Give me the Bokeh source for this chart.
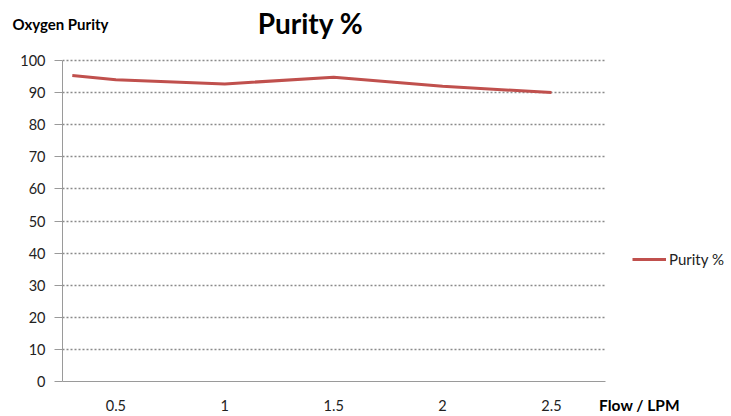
from bokeh.plotting import figure
from bokeh.models import Range1d, FixedTicker, Label, Legend, LegendItem, LinearAxis
from bokeh.embed import file_html
from bokeh.resources import INLINE

flow = [0.3, 0.5, 1.0, 1.5, 2.0, 2.5]
purity = [95.3, 94.0, 92.7, 94.8, 92.0, 90.0]
x_ticks = [0.5, 1.0, 1.5, 2.0, 2.5]
x_tick_labels = ["0.5", "1", "1.5", "2", "2.5"]
y_ticks = list(range(0, 101, 10))

FONT = "Lato"
W, H = 731, 416
# plot-area (axis box) in pixels and its data limits
AL, AR, AT, AB = 62, 605, 60, 381
X0, X1 = 0.255, 2.748
Y0, Y1 = 0, 100
xppu = (AR - AL) / (X1 - X0)
yppu = (AB - AT) / (Y1 - Y0)
FRAME_TOP = 57
# frame extends to the right edge so that the legend sits inside it,
# and a little above 100 so that the top gridline is fully drawn
x_end = X1 + (W - AR) / xppu
y_end = Y1 + (AT - FRAME_TOP) / yppu

p = figure(width=W, height=H, output_backend="svg", toolbar_location=None,
           x_range=Range1d(X0, x_end), y_range=Range1d(Y0, y_end),
           min_border_left=AL, min_border_right=0,
           min_border_top=FRAME_TOP, min_border_bottom=H - AB)
p.title.text = ""
p.outline_line_color = None
p.background_fill_color = "white"
p.border_fill_color = "white"

r = p.line(flow, purity, line_color="#C0504D", line_width=3)

# y axis
yax = p.yaxis[0]
yax.ticker = FixedTicker(ticks=y_ticks)
yax.bounds = (Y0, Y1)
yax.axis_line_color = "#9a9a9a"
yax.major_tick_line_color = "#9a9a9a"
yax.major_tick_out = 8
yax.major_tick_in = 0
yax.minor_tick_line_color = None
yax.major_label_text_font = FONT
yax.major_label_text_font_size = "14.5px"
yax.major_label_text_color = "#222222"
yax.major_label_standoff = 9

# x axis
xax = p.xaxis[0]
xax.ticker = FixedTicker(ticks=x_ticks)
xax.bounds = (X0, X1)
xax.major_label_overrides = {t: l for t, l in zip(x_ticks, x_tick_labels)}
xax.axis_line_color = "#9a9a9a"
xax.major_tick_line_color = None
xax.major_tick_out = 0
xax.minor_tick_line_color = None
xax.major_label_text_font = FONT
xax.major_label_text_font_size = "14.5px"
xax.major_label_text_color = "#222222"
xax.major_label_standoff = 18

# axis title "Flow / LPM" drawn on the same row as the tick labels
flow_title_x = X0 + (639 - AL) / xppu
tax = LinearAxis(ticker=FixedTicker(ticks=[flow_title_x]),
                 major_label_overrides={flow_title_x: "Flow / LPM"},
                 axis_line_color=None, major_tick_line_color=None,
                 minor_tick_line_color=None, major_tick_out=0,
                 major_label_standoff=-18,
                 major_label_text_font=FONT, major_label_text_font_style="bold",
                 major_label_text_font_size="15.5px",
                 major_label_text_color="black")
p.add_layout(tax, "below")

p.xgrid.grid_line_color = None
p.ygrid.ticker = FixedTicker(ticks=y_ticks[1:])
p.ygrid.cross_bounds = (X0, X1)
p.ygrid.grid_line_color = "#8a8a8a"
p.ygrid.grid_line_dash = "2 2"
p.ygrid.grid_line_width = 1.5

def txt(x, y, s, size, align="left"):
    return Label(x=x, y=y, x_units="canvas", y_units="canvas", text=s,
                 text_font=FONT, text_font_style="bold", text_font_size=size,
                 text_align=align, text_baseline="middle", text_color="black")

p.add_layout(txt(12, 23, "Oxygen Purity", "15px"), "above")
p.add_layout(txt(310, 22, "Purity %", "28px", "center"), "above")

legend = Legend(items=[LegendItem(label="Purity %", renderers=[r])],
                location=(632 - AL, AB - 259 - 10), border_line_color=None,
                background_fill_alpha=0, padding=0, margin=0,
                glyph_width=34, glyph_height=20, label_height=20,
                label_standoff=3, label_text_font=FONT,
                label_text_font_size="15px", label_text_color="#222222")
p.add_layout(legend, "center")

open("out.html", "w").write(file_html(p, INLINE))
